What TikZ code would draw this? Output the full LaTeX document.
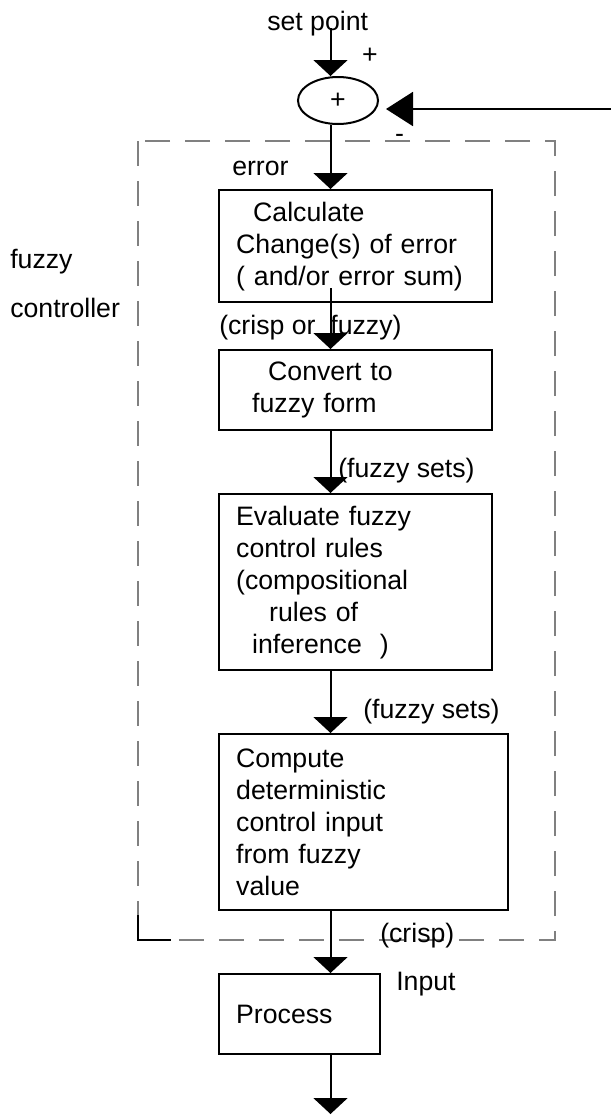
\documentclass[tikz,border=0pt]{standalone}
\usepackage{fontspec}
\setmainfont{Liberation Sans}
\usetikzlibrary{arrows.meta,shapes.geometric,calc}

\begin{document}
\begin{tikzpicture}[
  x=0.75pt, y=-0.75pt,
  font=\fontsize{20}{24}\selectfont,
  stepbox/.style={draw, line width=1.8pt, rectangle, align=left,
    inner xsep=12.75pt, inner ysep=0pt, anchor=north west},
  lbl/.style={inner sep=0pt, anchor=base west},
  flow/.style={line width=1.5pt, -{Triangle[width=25.5pt,length=12pt]}},
  feed/.style={line width=1.5pt, -{Triangle[width=25.5pt,length=20.25pt]}},
  frame/.style={draw=black!50, line width=0.8pt, dash pattern=on 18.75pt off 11.25pt},
]
\useasboundingbox (0,0) rectangle (611,1115);

% axis of the signal path and free ends of the loop
\coordinate (ax) at (330.5,0);
\coordinate (fb) at (611,109);
\coordinate (out) at (330.5,1114);

% boundary of the fuzzy controller
\draw[frame] (138,141) rectangle (555,940);
\draw[line width=1.2pt] (138,915) -- (138,940) -- (171,940);
\node[lbl] (fz1) at (10,268) {fuzzy};
\node[lbl] (fz2) at (10,317) {controller};

% summing junction
\node[lbl] (setpt) at (267,30) {set point};
\node[draw, ellipse, line width=1.5pt, minimum width=60pt, minimum height=35.25pt,
  inner sep=0pt] (sum) at (338,100.5) {+};
\node[inner sep=0pt, anchor=base] (plus) at (370,63) {+};
\node[inner sep=0pt, anchor=base] (minus) at (399.5,142) {-};

% processing steps
\node[stepbox, minimum width=204.75pt, text width=179.25pt, minimum height=84pt]
  (calc) at (218,189)
  {\hspace*{12.75pt}Calculate\\Change(s) of error\\( and/or error sum)};
\node[stepbox, minimum width=204.75pt, text width=179.25pt, minimum height=60pt]
  (conv) at (218,349)
  {\hspace*{24pt}Convert to\\\hspace*{12pt}fuzzy form};
\node[stepbox, minimum width=204.75pt, text width=179.25pt, minimum height=132pt]
  (eval) at (218,493)
  {Evaluate fuzzy\\control rules\\(compositional\\\hspace*{24.75pt}rules of\\\hspace*{12pt}inference\hspace{13.5pt})};
\node[stepbox, minimum width=216.75pt, text width=191.25pt, minimum height=132pt]
  (comp) at (218,733)
  {Compute\\deterministic\\control input\\from fuzzy\\value};
\node[stepbox, minimum width=120.75pt, text width=95.25pt, minimum height=60pt]
  (proc) at (218,973)
  {Process};

% signal labels
\node[lbl] (l-err) at (232,175) {error};
\node[lbl] (l-cf) at (219,334) {(crisp or\ \ fuzzy)};
\node[lbl] (l-fs1) at (338,477) {(fuzzy sets)};
\node[lbl] (l-fs2) at (363,718) {(fuzzy sets)};
\node[lbl] (l-cr) at (380,942) {(crisp)};
\node[lbl] (l-in) at (396,990) {Input};

% connectors
\draw[flow] ($(ax |- setpt.base)+(0,-2)$) -- (ax |- sum.north);
\draw[feed] (fb) -- ($(sum.east |- fb)+(7,0)$);
\draw[flow] (ax |- sum.south) -- (ax |- calc.north);
\draw[flow] ($(ax |- calc.south)+(0,-15)$) -- (ax |- conv.north);
\draw[flow] (ax |- conv.south) -- (ax |- eval.north);
\draw[flow] (ax |- eval.south) -- (ax |- comp.north);
\draw[flow] (ax |- comp.south) -- (ax |- proc.north);
\draw[flow] (ax |- proc.south) -- (out);
\end{tikzpicture}
\end{document}
